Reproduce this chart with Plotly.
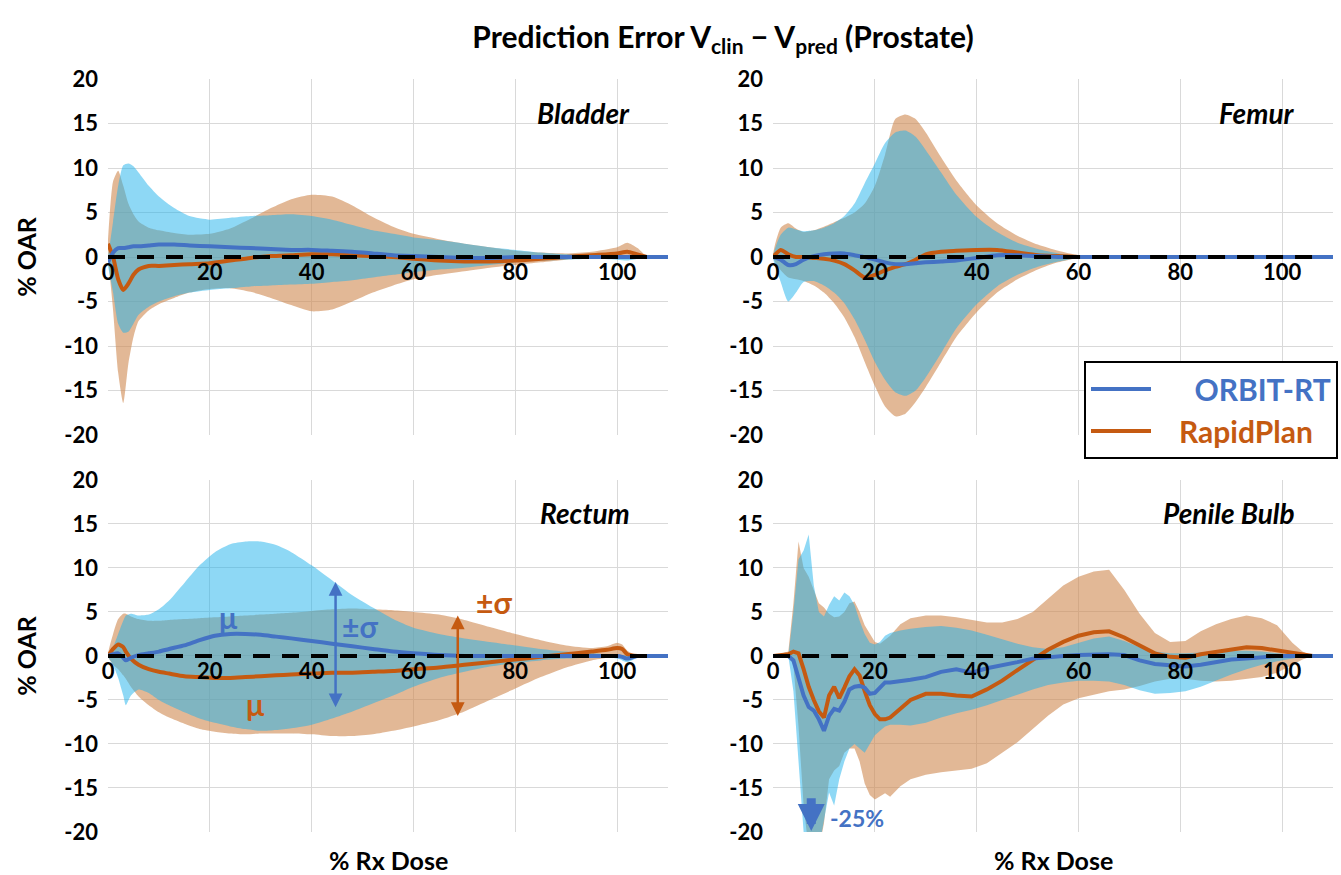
import plotly.graph_objects as go

# ---------------- data ----------------
# Bladder
bladder_x = [0, 1, 2, 3, 4, 5, 6, 8, 10, 13, 16, 20, 24, 28, 32, 36, 40, 44, 48, 52, 56, 60, 65, 70, 75, 80, 85, 90, 95, 100, 102, 104, 106, 108, 110]
bladder_orbit_mu = [-0.6, 0.5, 1.0, 1.0, 1.1, 1.2, 1.2, 1.3, 1.4, 1.4, 1.3, 1.2, 1.1, 1.0, 0.9, 0.8, 0.8, 0.7, 0.6, 0.4, 0.2, 0.1, 0.0, -0.1, -0.1, 0, 0, 0, 0, 0, 0, 0, 0, 0, 0]
bladder_orbit_hi = [0, 4, 8, 10.3, 10.5, 10.2, 9.5, 8.0, 6.8, 5.5, 4.6, 4.2, 4.4, 4.6, 4.7, 4.8, 4.6, 4.2, 3.6, 3.0, 2.6, 2.2, 1.9, 1.5, 1.1, 0.8, 0.5, 0.3, 0.2, 0.1, 0.05, 0, 0, 0, 0]
bladder_orbit_lo = [-1, -4, -7.5, -8.5, -8.4, -7.5, -6.5, -5.6, -5.0, -4.4, -4.0, -3.7, -3.5, -3.3, -3.2, -3.1, -3.0, -2.8, -2.6, -2.3, -2.0, -1.7, -1.4, -1.2, -0.9, -0.6, -0.4, -0.3, -0.2, -0.3, -0.4, -0.2, 0, 0, 0]
bladder_rp_mu = [1.5, 0, -2.5, -3.7, -3.0, -2.0, -1.4, -1.0, -1.0, -0.9, -0.8, -0.7, -0.4, -0.1, 0.1, 0.2, 0.3, 0.3, 0.2, 0.1, 0, -0.2, -0.4, -0.5, -0.5, -0.4, -0.2, 0, 0.2, 0.4, 0.6, 0.3, 0, 0, 0]
bladder_rp_hi = [2, 8.5, 9.7, 8, 6, 4.8, 4.0, 3.3, 3.0, 2.7, 2.5, 2.6, 3.2, 4.3, 5.5, 6.5, 7.0, 6.8, 5.8, 4.5, 3.4, 2.6, 2.0, 1.5, 1.1, 0.7, 0.5, 0.4, 0.6, 1.1, 1.6, 1.0, 0, 0, 0]
bladder_rp_lo = [0, -6, -13, -16.4, -12, -9, -7.2, -6.0, -5.3, -4.6, -4.0, -3.6, -3.5, -3.9, -4.6, -5.4, -6.1, -5.9, -5.0, -4.0, -3.2, -2.5, -2.0, -1.6, -1.2, -0.9, -0.6, -0.3, -0.1, -0.1, -0.1, 0, 0, 0, 0]

# Femur
femur_x = [0, 1.5, 3, 4.5, 6, 8, 10, 12, 14, 16, 18, 20, 22, 24, 26, 28, 30, 33, 36, 40, 44, 48, 52, 56, 60, 64, 70, 80, 90, 100, 110]
femur_orbit_mu = [0, -0.3, -0.9, -0.8, -0.3, 0.1, 0.3, 0.4, 0.4, 0.2, 0, -0.3, -0.6, -0.8, -0.8, -0.7, -0.6, -0.5, -0.4, -0.1, 0.2, 0.2, 0.1, 0, 0, 0, 0, 0, 0, 0, 0]
femur_orbit_hi = [0, 2.5, 3.3, 3.1, 2.9, 3.0, 3.3, 3.8, 4.6, 6.0, 8.3, 10.5, 12.8, 14.0, 14.2, 13.5, 12.0, 9.5, 7.0, 4.5, 2.8, 1.6, 0.9, 0.4, 0.1, 0, 0, 0, 0, 0, 0]
femur_orbit_lo = [0, -2.8, -5.0, -4.0, -2.8, -2.7, -3.2, -4.0, -5.2, -7.0, -9.3, -11.8, -13.8, -15.2, -15.6, -15.0, -13.5, -10.8, -8.0, -5.3, -3.3, -2.0, -1.1, -0.5, -0.1, 0, 0, 0, 0, 0, 0]
femur_rp_mu = [0, 0.8, 0.3, 0, 0, -0.1, -0.2, -0.4, -0.8, -1.5, -2.3, -2.0, -1.5, -1.1, -0.8, -0.3, 0.3, 0.6, 0.7, 0.8, 0.8, 0.5, 0.2, 0.1, 0, 0, 0, 0, 0, 0, 0]
femur_rp_hi = [0, 3.3, 3.8, 3.2, 2.8, 3.0, 3.4, 3.9, 4.4, 5.0, 6.0, 8.0, 11.5, 15.5, 16.0, 15.5, 14.0, 11.2, 8.6, 5.8, 3.8, 2.4, 1.4, 0.7, 0.2, 0, 0, 0, 0, 0, 0]
femur_rp_lo = [0, -1.5, -2.3, -2.5, -2.7, -3.2, -4.0, -5.2, -6.8, -9.0, -11.8, -14.5, -16.8, -17.9, -17.6, -16.3, -14.6, -11.8, -9.0, -6.2, -4.0, -2.5, -1.4, -0.6, -0.1, 0, 0, 0, 0, 0, 0]

# Rectum
rectum_x = [0, 1, 2, 3, 3.5, 4.5, 6, 8, 10, 12, 15, 18, 21, 24, 27, 30, 33, 36, 40, 44, 48, 52, 56, 60, 65, 70, 75, 80, 85, 90, 95, 98, 100, 101, 102, 104, 106, 110]
rectum_orbit_mu = [0, 0.2, 0.3, -0.2, -0.5, -0.2, 0.1, 0.3, 0.5, 0.8, 1.2, 1.8, 2.3, 2.5, 2.5, 2.4, 2.2, 2.0, 1.7, 1.4, 1.1, 0.8, 0.5, 0.3, 0.1, 0, 0, 0, 0, 0, 0, 0, 0, -0.1, -0.3, 0, 0, 0]
rectum_orbit_hi = [0, 1, 2.5, 4, 4.6, 4.8, 4.6, 4.7, 5.3, 6.3, 8.3, 10.3, 11.8, 12.7, 13.0, 13.0, 12.6, 11.8, 10.3, 8.6, 6.9, 5.5, 4.2, 3.2, 2.5, 2.0, 1.6, 1.2, 0.8, 0.5, 0.3, 0.2, 0.2, 0.1, 0, 0, 0, 0]
rectum_orbit_lo = [0, -1, -2.5, -4.5, -5.6, -4.5, -3.8, -4.2, -5.0, -5.6, -6.4, -7.1, -7.6, -8.0, -8.3, -8.5, -8.4, -8.2, -7.8, -7.1, -6.3, -5.4, -4.5, -3.5, -2.5, -1.8, -1.2, -0.8, -0.5, -0.3, -0.2, -0.2, -0.3, -0.5, -0.7, -0.2, 0, 0]
rectum_rp_mu = [0, 0.8, 1.3, 1.0, 0.5, -0.3, -1.0, -1.5, -1.8, -2.0, -2.3, -2.4, -2.5, -2.5, -2.4, -2.3, -2.2, -2.1, -2.0, -1.9, -1.9, -1.8, -1.7, -1.5, -1.3, -1.0, -0.7, -0.4, -0.1, 0.2, 0.5, 0.7, 0.9, 0.8, 0.2, 0, 0, 0]
rectum_rp_hi = [0, 2.5, 4.2, 4.8, 4.8, 4.5, 4.2, 4.0, 4.0, 4.1, 4.2, 4.3, 4.4, 4.5, 4.6, 4.7, 4.8, 4.9, 5.1, 5.3, 5.4, 5.3, 5.2, 5.0, 4.7, 4.1, 3.3, 2.5, 1.8, 1.2, 0.9, 1.1, 1.5, 1.3, 0.6, 0, 0, 0]
rectum_rp_lo = [0, -1, -1.5, -2.2, -2.6, -3.5, -4.6, -5.6, -6.4, -7.0, -7.7, -8.3, -8.6, -8.8, -8.9, -8.8, -8.8, -8.8, -8.9, -9.1, -9.1, -8.9, -8.5, -8.0, -7.3, -6.3, -5.0, -3.7, -2.4, -1.3, -0.5, -0.2, 0, 0, -0.1, 0, 0, 0]

# Penile Bulb
bulb_x = [0, 3, 4, 5, 6, 7, 8, 9, 10, 11, 12, 13, 14, 15, 16, 17, 18, 19, 20, 21, 22, 23, 25, 27, 30, 33, 36, 39, 42, 45, 48, 51, 54, 57, 60, 63, 66, 69, 72, 75, 78, 81, 84, 87, 90, 93, 96, 99, 102, 104, 106, 110]
bulb_orbit_mu = [0, 0, -0.5, -2.5, -4.5, -5.8, -6.2, -7.2, -8.5, -6.8, -6.0, -6.2, -5.2, -3.8, -3.5, -3.4, -3.6, -4.3, -4.2, -3.6, -3.0, -3.0, -2.9, -2.7, -2.4, -1.8, -1.5, -1.9, -1.4, -1.1, -0.7, -0.3, -0.1, 0.0, 0.1, 0.2, 0.2, 0.1, -0.5, -0.9, -1.1, -1.2, -1.0, -0.7, -0.4, -0.3, -0.1, 0, 0, 0, 0, 0]
bulb_orbit_hi = [0, 0, 5, 11, 12, 13.8, 8, 5.0, 4.5, 5.8, 6.8, 6.3, 7.2, 6.8, 5.8, 4.0, 2.5, 1.5, 1.3, 1.6, 2.3, 2.6, 2.9, 3.1, 3.3, 3.4, 3.2, 2.9, 2.4, 1.9, 1.4, 1.0, 0.8, 1.0, 1.5, 2.0, 2.2, 1.7, 1.0, 0.5, 0.3, 0.3, 0.4, 0.5, 0.6, 0.6, 0.5, 0.3, 0.1, 0, 0, 0]
bulb_orbit_lo = [0, 0, -4, -12, -20, -24, -25, -22, -19, -15.5, -17, -14, -12, -10.5, -10.0, -10.5, -11.0, -10.0, -9.0, -8.5, -8.0, -7.8, -7.8, -7.9, -7.6, -7.0, -6.5, -6.1, -5.6, -5.0, -4.4, -3.8, -3.3, -3.0, -2.8, -2.8, -2.9, -3.3, -3.9, -4.3, -4.2, -4.0, -3.5, -2.8, -2.1, -1.5, -1.0, -0.6, -0.3, -0.1, 0, 0]
bulb_rp_mu = [0, 0.2, 0.5, 0.3, -1.5, -3.5, -5.0, -6.3, -7.0, -4.5, -3.5, -4.8, -3.6, -2.3, -1.5, -2.2, -4.0, -5.6, -6.6, -7.2, -7.2, -7.0, -6.0, -5.0, -4.3, -4.3, -4.5, -4.6, -3.8, -2.8, -1.6, -0.4, 0.7, 1.6, 2.3, 2.7, 2.8, 2.1, 1.2, 0.3, -0.1, -0.2, 0.2, 0.5, 0.8, 1.0, 0.9, 0.6, 0.3, 0.1, 0, 0]
bulb_rp_hi = [0, 0.5, 6, 13, 10, 9, 7.5, 6.0, 5.5, 4.8, 4.4, 4.5, 5.0, 6.0, 6.2, 5.0, 3.5, 2.5, 1.6, 1.4, 1.8, 2.3, 3.6, 4.3, 4.6, 4.6, 4.4, 4.1, 3.8, 3.8, 4.2, 5.0, 6.5, 8.0, 9.0, 9.6, 9.8, 7.5, 4.8, 2.6, 1.6, 1.7, 2.8, 3.6, 4.2, 4.6, 4.3, 3.5, 1.5, 0.5, 0, 0]
bulb_rp_lo = [0, 0, -1, -8, -17, -22, -24, -22, -19, -14, -13, -12.5, -11, -10.5, -10.5, -12.0, -14.5, -15.8, -16.3, -16.0, -15.6, -16.0, -14.8, -14.0, -13.5, -13.2, -13.0, -12.8, -12.2, -11.0, -9.8, -8.3, -6.8, -5.5, -4.8, -4.4, -4.0, -3.8, -3.4, -2.9, -2.6, -2.6, -2.8, -2.9, -2.8, -2.6, -2.4, -1.9, -1.0, -0.4, 0, 0]

organs = ["Bladder", "Femur", "Rectum", "Penile Bulb"]
x_ticks = [0, 20, 40, 60, 80, 100]
y_ticks = [-20, -15, -10, -5, 0, 5, 10, 15, 20]
y_tick_labels = ["-20", "-15", "-10", "-5", "0", "5", "10", "15", "20"]
zero_line_end = 107

# ---------------- styling ----------------
FONT = "Lato, Open Sans, sans-serif"
BLUE = "#4472C4"
ORANGE = "#C55A11"
BLUE_BAND = "rgba(30,178,235,0.5)"
ORANGE_BAND = "rgba(207,137,80,0.6)"
GRID = "#D9D9D9"

data_sets = [
    (bladder_x, bladder_orbit_mu, bladder_orbit_hi, bladder_orbit_lo, bladder_rp_mu, bladder_rp_hi, bladder_rp_lo),
    (femur_x, femur_orbit_mu, femur_orbit_hi, femur_orbit_lo, femur_rp_mu, femur_rp_hi, femur_rp_lo),
    (rectum_x, rectum_orbit_mu, rectum_orbit_hi, rectum_orbit_lo, rectum_rp_mu, rectum_rp_hi, rectum_rp_lo),
    (bulb_x, bulb_orbit_mu, bulb_orbit_hi, bulb_orbit_lo, bulb_rp_mu, bulb_rp_hi, bulb_rp_lo),
]

x_domains = [[0, 0.4553], [0.5407, 0.996], [0, 0.4553], [0.5407, 0.996]]
y_domains = [[0.5272, 1.0], [0.5272, 1.0], [0, 0.4675], [0, 0.4675]]

fig = go.Figure()

for i, (xs, omu, ohi, olo, rmu, rhi, rlo) in enumerate(data_sets):
    n = i + 1
    xa = "x" if n == 1 else f"x{n}"
    ya = "y" if n == 1 else f"y{n}"
    shape = "linear" if n == 4 else "spline"
    # RapidPlan band
    fig.add_trace(go.Scatter(
        x=list(xs) + list(xs)[::-1], y=list(rhi) + list(rlo)[::-1],
        fill="toself", fillcolor=ORANGE_BAND, line=dict(width=0, shape=shape, smoothing=0.6),
        mode="lines", hoverinfo="skip", showlegend=False, xaxis=xa, yaxis=ya))
    # ORBIT-RT band
    fig.add_trace(go.Scatter(
        x=list(xs) + list(xs)[::-1], y=list(ohi) + list(olo)[::-1],
        fill="toself", fillcolor=BLUE_BAND, line=dict(width=0, shape=shape, smoothing=0.6),
        mode="lines", hoverinfo="skip", showlegend=False, xaxis=xa, yaxis=ya))
    # means
    fig.add_trace(go.Scatter(
        x=xs, y=rmu, mode="lines", line=dict(color=ORANGE, width=4, shape=shape, smoothing=0.6),
        name="&nbsp;&nbsp;&nbsp;<span style='color:#C55A11'><b>RapidPlan</b></span>",
        showlegend=(n == 2), legendrank=2, xaxis=xa, yaxis=ya))
    fig.add_trace(go.Scatter(
        x=xs, y=omu, mode="lines", line=dict(color=BLUE, width=4, shape=shape, smoothing=0.6),
        name="&nbsp;&nbsp;&nbsp;&nbsp;&nbsp;<span style='color:#4472C4'><b>ORBIT-RT</b></span>",
        showlegend=(n == 2), legendrank=1, xaxis=xa, yaxis=ya))
    # dashed zero reference
    fig.add_shape(type="line", xref=xa, yref=ya, x0=0, x1=zero_line_end, y0=0, y1=0,
                  line=dict(color="black", width=4, dash="17px,12px"), layer="above")

axis_common = dict(showline=False, zeroline=False, gridcolor=GRID, gridwidth=1.3)
tick_font = dict(size=22, family=FONT, color="black", weight="bold")
layout = dict()
for i in range(4):
    n = i + 1
    xk = "xaxis" if n == 1 else f"xaxis{n}"
    yk = "yaxis" if n == 1 else f"yaxis{n}"
    xa = "x" if n == 1 else f"x{n}"
    mid = (y_domains[i][0] + y_domains[i][1]) / 2
    layout[xk] = dict(domain=x_domains[i], range=[0, 110], tickvals=x_ticks,
                      ticktext=[str(v) for v in x_ticks], anchor="free", position=mid,
                      tickfont=tick_font, ticks="", **axis_common)
    layout[yk] = dict(domain=y_domains[i], range=[-20, 20], tickvals=y_ticks, ticktext=y_tick_labels,
                      anchor=xa, tickfont=tick_font, ticks="", ticklabelstandoff=9, **axis_common)
    if n in (1, 3):
        layout[yk]["title"] = dict(text="<b>% OAR</b>", font=dict(size=25, family=FONT, color="black"), standoff=20)

fig.update_layout(**layout)

annotations = []
# organ labels
for i, name in enumerate(organs):
    n = i + 1
    xa = "x" if n == 1 else f"x{n}"
    ya = "y" if n == 1 else f"y{n}"
    annotations.append(dict(text=f"<b><i>{name}</i></b>", xref=f"{xa} domain", yref=f"{ya} domain",
                            x=0.935, y=0.905, xanchor="right", yanchor="middle", showarrow=False,
                            font=dict(size=28, family=FONT, color="black")))
# x axis titles
for n in (3, 4):
    xa = f"x{n}"
    annotations.append(dict(text="<b>% Rx Dose</b>", xref=f"{xa} domain", yref="paper",
                            x=0.5, y=-0.037, xanchor="center", yanchor="middle", showarrow=False,
                            font=dict(size=25, family=FONT, color="black")))
# Rectum annotations
annotations += [
    dict(text="<b>μ</b>", xref="x3", yref="y3", x=23.6, y=4.4, showarrow=False,
         font=dict(size=30, family=FONT, color=BLUE)),
    dict(text="<b>±σ</b>", xref="x3", yref="y3", x=49.5, y=3.4, showarrow=False,
         font=dict(size=30, family=FONT, color=BLUE)),
    dict(text="<b>μ</b>", xref="x3", yref="y3", x=28.9, y=-5.4, showarrow=False,
         font=dict(size=30, family=FONT, color=ORANGE)),
    dict(text="<b>±σ</b>", xref="x3", yref="y3", x=75.8, y=6.1, showarrow=False,
         font=dict(size=30, family=FONT, color=ORANGE)),
    dict(text="", xref="x3", yref="y3", axref="x3", ayref="y3", x=44.7, y=8.4, ax=44.7, ay=-6.0,
         showarrow=True, arrowhead=2, arrowside="end+start", arrowwidth=2.5, arrowsize=1.1, arrowcolor=BLUE),
    dict(text="", xref="x3", yref="y3", axref="x3", ayref="y3", x=68.7, y=4.6, ax=68.7, ay=-7.0,
         showarrow=True, arrowhead=2, arrowside="end+start", arrowwidth=2.5, arrowsize=1.1, arrowcolor=ORANGE),
    # Penile bulb: off-scale indicator
    dict(text="", xref="x4", yref="y4", axref="x4", ayref="y4", x=7.5, y=-19.9, ax=7.5, ay=-16.0,
         showarrow=True, arrowhead=2, arrowwidth=9, arrowsize=0.6, arrowcolor=BLUE),
    dict(text="<b>-25%</b>", xref="x4", yref="y4", x=10.8, y=-18.4, xanchor="left", showarrow=False,
         font=dict(size=23, family=FONT, color=BLUE)),
]

fig.update_layout(
    width=1341, height=875,
    margin=dict(l=108, r=3, t=79, b=43),
    paper_bgcolor="white", plot_bgcolor="white",
    title=dict(text="<b>Prediction Error V<sub>clin</sub> − V<sub>pred</sub> (Prostate)</b>",
               x=0.5, xref="paper", xanchor="center", y=1 - 37 / 875, yref="container", yanchor="middle",
               font=dict(size=30, family=FONT, color="black")),
    annotations=annotations,
    legend=dict(x=1.0, xanchor="right", y=0.6255, yanchor="top", bgcolor="white",
                bordercolor="black", borderwidth=2, font=dict(size=30, family=FONT, color="black"),
                itemwidth=60, traceorder="normal"),
)

fig.write_html("out.html")
